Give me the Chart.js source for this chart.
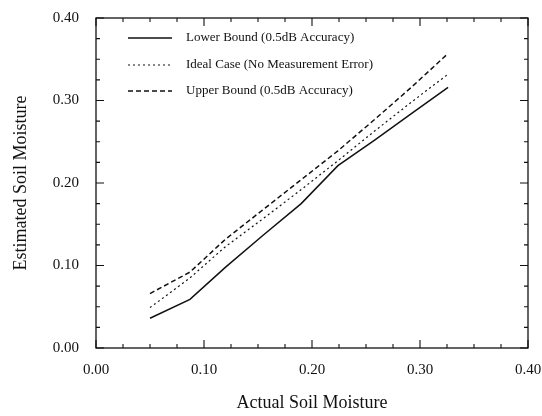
<!DOCTYPE html>
<html>
<head>
<meta charset="utf-8">
<script src="https://cdn.jsdelivr.net/npm/chart.js@4/dist/chart.umd.min.js"></script>
<style>
    html, body { margin: 0; padding: 0; background: #fff; }
    #wrap { width: 542px; height: 416px; }
</style>
</head>
<body>
<div id="wrap"><canvas id="myChart" width="542" height="416"></canvas></div>
<script>
// values
const actualMoisture = [0.050, 0.087, 0.120, 0.155, 0.190, 0.224, 0.258, 0.292, 0.326];
const lowerBound = [0.036, 0.059, 0.098, 0.137, 0.175, 0.221, 0.252, 0.284, 0.316];
const idealCase = [0.049, 0.085, 0.123, 0.157, 0.192, 0.227, 0.263, 0.298, 0.332];
const upperBound = [0.066, 0.092, 0.132, 0.168, 0.204, 0.239, 0.277, 0.316, 0.357];
const seriesNames = [
    'Lower Bound (0.5dB Accuracy)',
    'Ideal Case (No Measurement Error)',
    'Upper Bound (0.5dB Accuracy)'
];
const axisTicks = [0.0, 0.1, 0.2, 0.3, 0.4];
const minorStep = 0.025;

const ink = '#111';
const serif = "'Liberation Serif', 'DejaVu Serif', serif";

function toPoints(ys)
{
    return actualMoisture.map((x, i) => ({x: x, y: ys[i]}));
}

// frame with inward major/minor ticks on all four sides, plus the legend box
const framePlugin = {
    id: 'frame',
    afterDraw(chart) {
        const {ctx, chartArea: a, scales} = chart;
        ctx.save();
        ctx.strokeStyle = ink;
        ctx.lineWidth = 1.3;
        ctx.strokeRect(a.left, a.top, a.right - a.left, a.bottom - a.top);

        ctx.lineWidth = 1.1;
        const lo = axisTicks[0];
        const hi = axisTicks[axisTicks.length - 1];
        const n = Math.round((hi - lo) / minorStep);
        for (let i = 0; i <= n; i++) {
            const v = lo + i * minorStep;
            const major = i % 4 === 0;
            const len = major ? 8 : 4;
            const px = scales.x.getPixelForValue(v);
            const py = scales.y.getPixelForValue(v);
            ctx.beginPath();
            ctx.moveTo(px, a.bottom); ctx.lineTo(px, a.bottom - len);
            ctx.moveTo(px, a.top); ctx.lineTo(px, a.top + len);
            ctx.moveTo(a.left, py); ctx.lineTo(a.left + len, py);
            ctx.moveTo(a.right, py); ctx.lineTo(a.right - len, py);
            ctx.stroke();
        }

        // legend
        const rows = [20, 47, 73];
        ctx.font = '13px ' + serif;
        ctx.fillStyle = ink;
        ctx.textBaseline = 'middle';
        chart.data.datasets.forEach((ds, i) => {
            const y = a.top + rows[i];
            ctx.beginPath();
            ctx.setLineDash(ds.borderDash || []);
            ctx.lineWidth = ds.borderWidth;
            ctx.moveTo(a.left + 32, y);
            ctx.lineTo(a.left + 76, y);
            ctx.stroke();
            ctx.setLineDash([]);
            ctx.fillText(ds.label, a.left + 90, y);
        });
        ctx.restore();
    }
};

const config = {
    type: 'line',
    data: {
        datasets: [
            {
                label: seriesNames[0],
                data: toPoints(lowerBound),
                borderColor: ink,
                borderWidth: 1.5,
                pointRadius: 0,
                tension: 0
            },
            {
                label: seriesNames[1],
                data: toPoints(idealCase),
                borderColor: ink,
                borderWidth: 1.2,
                borderDash: [2, 3],
                pointRadius: 0,
                tension: 0
            },
            {
                label: seriesNames[2],
                data: toPoints(upperBound),
                borderColor: ink,
                borderWidth: 1.5,
                borderDash: [5, 3],
                pointRadius: 0,
                tension: 0
            }
        ]
    },
    options: {
        responsive: false,
        animation: false,
        layout: {padding: {left: 0, right: 0, top: 15, bottom: 0}},
        plugins: {
            legend: {display: false},
            tooltip: {enabled: false}
        },
        scales: {
            x: {
                type: 'linear',
                min: 0,
                max: 0.4,
                grid: {display: false},
                border: {display: false},
                afterBuildTicks: (s) => { s.ticks = axisTicks.map(v => ({value: v})); },
                afterFit: (s) => { s.height = 68; s.paddingRight = 14; },
                ticks: {
                    padding: 5,
                    color: ink,
                    maxRotation: 0,
                    font: {family: serif, size: 15},
                    callback: (v) => Number(v).toFixed(2)
                },
                title: {
                    display: true,
                    text: 'Actual Soil Moisture',
                    color: ink,
                    font: {family: serif, size: 18},
                    padding: {top: 0, bottom: 2}
                }
            },
            y: {
                type: 'linear',
                min: 0,
                max: 0.4,
                grid: {display: false},
                border: {display: false},
                afterBuildTicks: (s) => { s.ticks = axisTicks.map(v => ({value: v})); },
                afterFit: (s) => { s.width = 96; },
                ticks: {
                    padding: 9,
                    color: ink,
                    font: {family: serif, size: 15},
                    callback: (v) => Number(v).toFixed(2)
                },
                title: {
                    display: true,
                    text: 'Estimated Soil Moisture',
                    color: ink,
                    font: {family: serif, size: 18},
                    padding: {top: 10, bottom: 0}
                }
            }
        }
    },
    plugins: [framePlugin]
};

new Chart(document.getElementById('myChart').getContext('2d'), config);
</script>
</body>
</html>
